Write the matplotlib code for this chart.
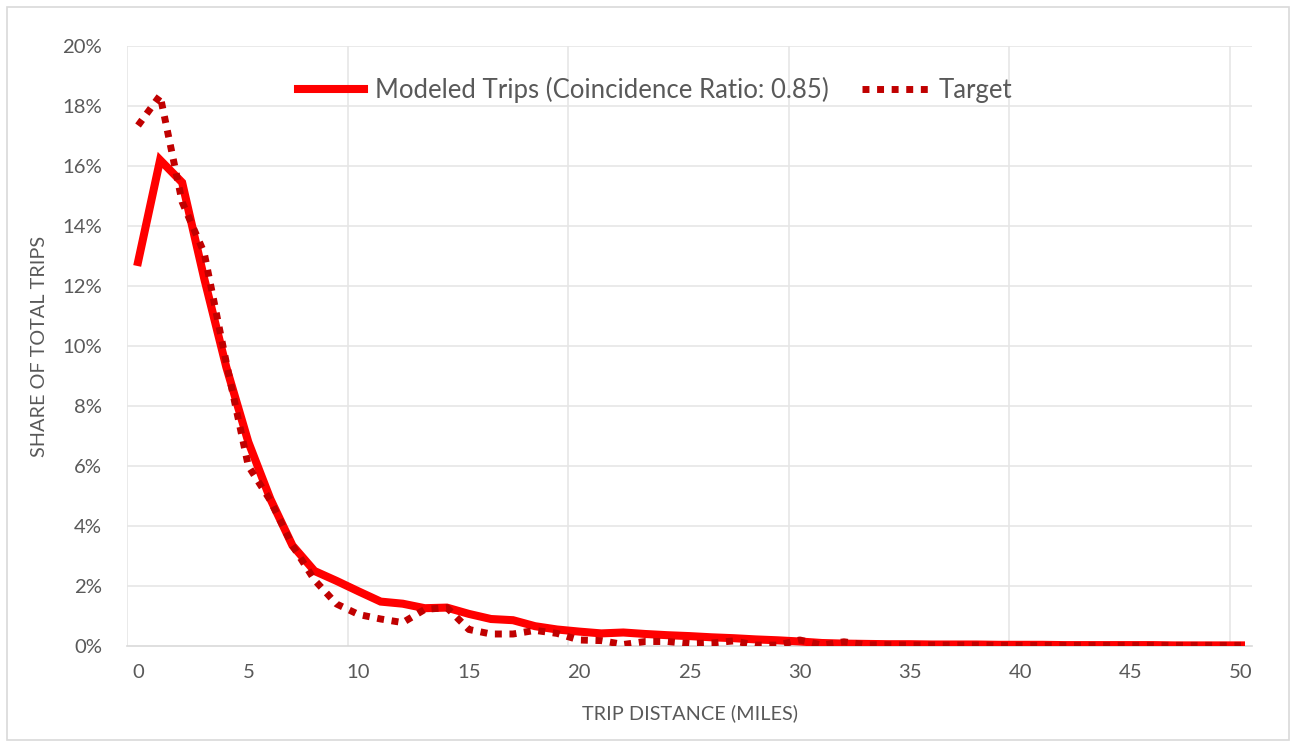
import matplotlib.pyplot as plt
import matplotlib.patches as patches
import numpy as np

# trip distance bins (miles)
distance = np.arange(0, 51)

# share of total trips (%)
modeled = [12.8, 16.2, 15.45, 12.25, 9.3, 6.8, 4.9, 3.35, 2.5, 2.17,
           1.82, 1.48, 1.41, 1.26, 1.28, 1.07, 0.90, 0.86, 0.66, 0.55,
           0.48, 0.42, 0.45, 0.40, 0.36, 0.33, 0.29, 0.26, 0.22, 0.19,
           0.15, 0.10, 0.08, 0.07, 0.06, 0.06, 0.05, 0.05, 0.05, 0.04,
           0.04, 0.04, 0.03, 0.03, 0.03, 0.03, 0.03, 0.02, 0.02, 0.02, 0.02]
target = [17.35, 18.35, 14.8, 13.1, 9.45, 6.0, 4.85, 3.35, 2.2, 1.4,
          1.05, 0.9, 0.78, 1.22, 1.28, 0.55, 0.4, 0.4, 0.52, 0.42,
          0.2, 0.18, 0.05, 0.15, 0.15, 0.08, 0.1, 0.17, 0.03, 0.03,
          0.2, 0.03, 0.14, 0.04, 0.04, 0.03, 0.03, 0.03, 0.03, 0.02,
          0.02, 0.02, 0.02, 0.02, 0.02, 0.02, 0.02, 0.02, 0.02, 0.02, 0.02]

modeled_label = 'Modeled Trips (Coincidence Ratio: 0.85)'
target_label = 'Target'
x_ticks = np.arange(0, 51, 5)
y_ticks = np.arange(0, 21, 2)

plt.rcParams['font.family'] = ['Lato', 'DejaVu Sans']
text_col = '#595959'
grid_col = '#E6E6E6'

fig = plt.figure(figsize=(12.96, 7.47), dpi=100)
ax = fig.add_axes([127 / 1296, 1 - 646 / 747, (1252 - 127) / 1296, 600 / 747])

ax.plot(distance, modeled, color='#FF0000', lw=5.8, solid_joinstyle='miter',
        label=modeled_label, zorder=3)
ax.plot(distance, target, color='#C00000', lw=5.0, linestyle=(0, (1, 1.1)),
        dash_capstyle='butt', label=target_label, zorder=4)

ax.set_xlim(-0.5, 50.5)
ax.set_ylim(0, 20)
ax.set_xticks(x_ticks)
ax.set_yticks(y_ticks)
ax.set_yticklabels([f'{v}%' for v in y_ticks])

# gridlines sit between categories like an Excel category axis
for g in np.arange(-0.5, 50, 10):
    ax.axvline(g, color=grid_col, lw=1.2, zorder=0)
for g in y_ticks[1:]:
    ax.axhline(g, color=grid_col, lw=1.2, zorder=0)

for s in ['top', 'right', 'left']:
    ax.spines[s].set_visible(False)
ax.spines['bottom'].set_color('#D9D9D9')
ax.spines['bottom'].set_linewidth(1.2)

ax.tick_params(length=0, labelsize=14.6, labelcolor=text_col)
ax.tick_params(axis='y', pad=18)
ax.tick_params(axis='x', pad=13)

ax.set_xlabel('TRIP DISTANCE (MILES)', fontsize=14.3, color=text_col, labelpad=17)
ax.set_ylabel('SHARE OF TOTAL TRIPS', fontsize=14.3, color=text_col, labelpad=10)

leg = ax.legend(loc='center', bbox_to_anchor=(655 / 1296, 1 - 90 / 747),
                bbox_transform=fig.transFigure, ncol=2, frameon=False,
                fontsize=18.5, handlelength=2.6, handletextpad=0.4,
                columnspacing=1.3)
for t in leg.get_texts():
    t.set_color(text_col)

# chart border
fig.patches.append(patches.Rectangle((7 / 1296, 7 / 747), 1282 / 1296, 733 / 747,
                                     transform=fig.transFigure, fill=False,
                                     edgecolor='#D9D9D9', lw=1.2))

fig.savefig('out.png', dpi=100)
